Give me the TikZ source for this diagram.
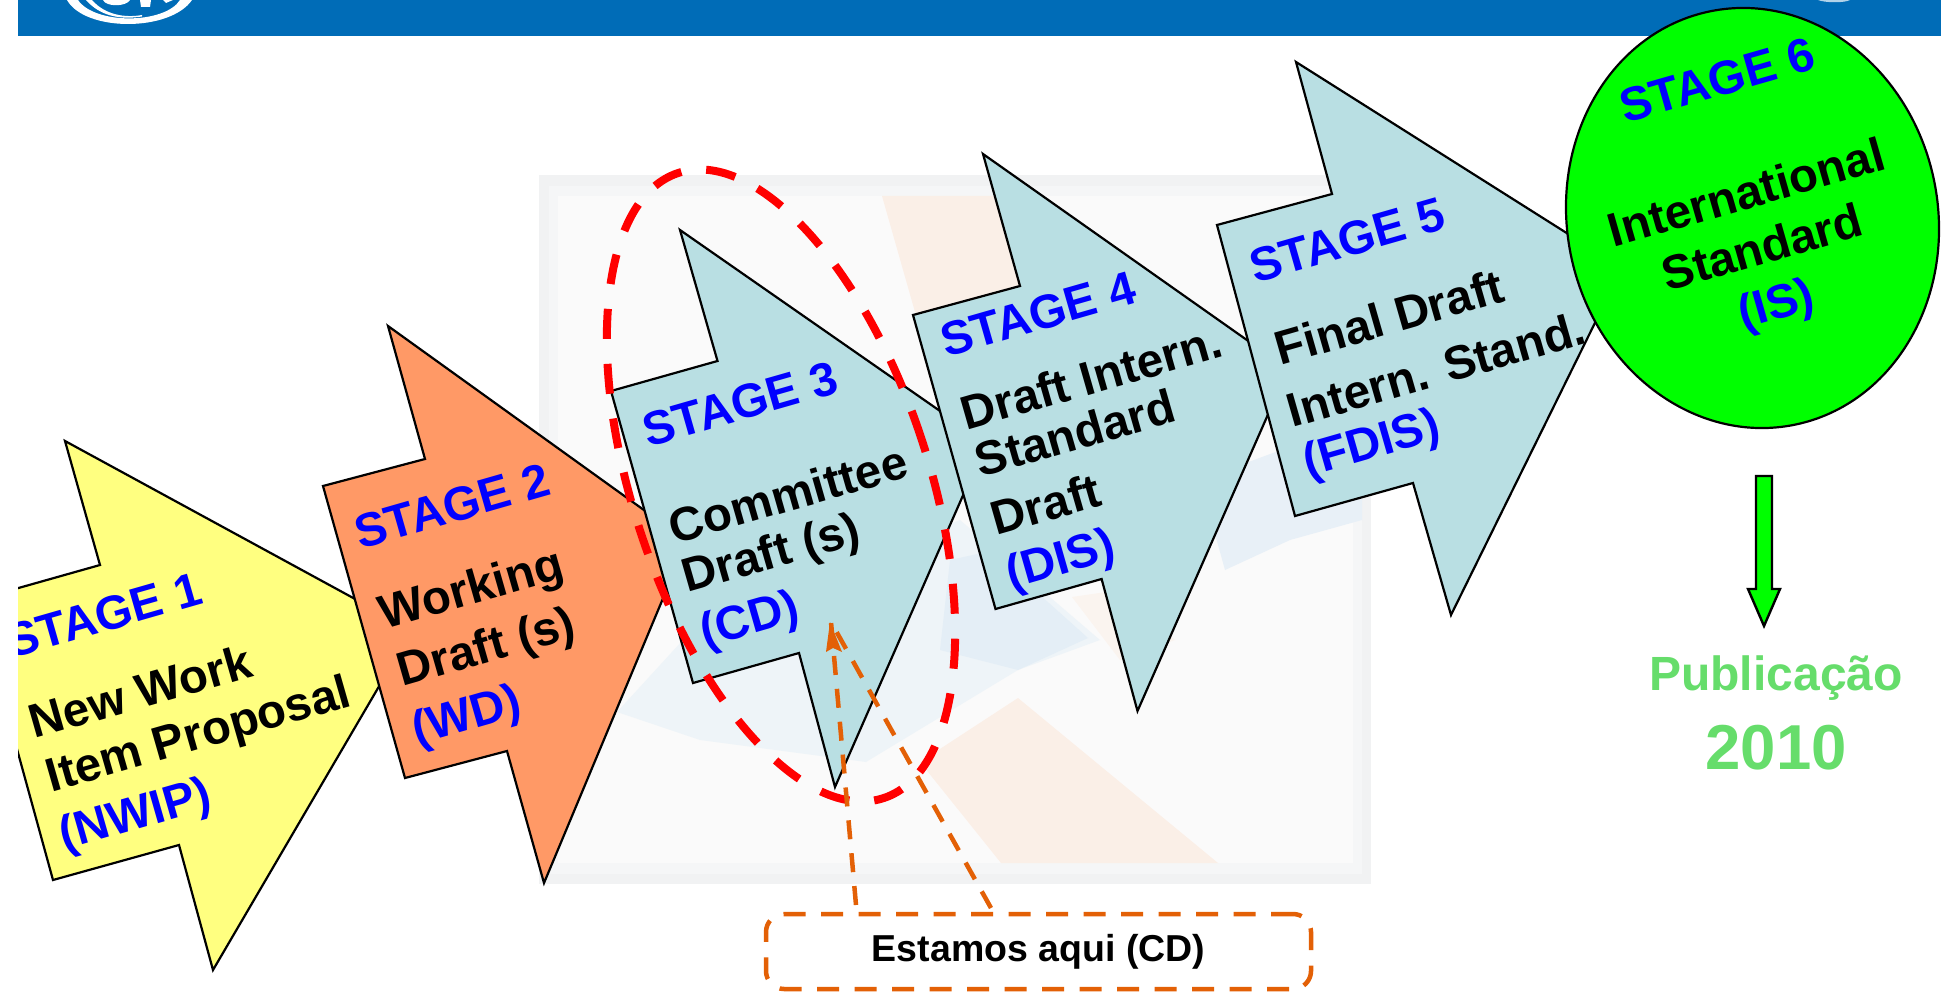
\documentclass[tikz,border=0pt]{standalone}
\usepackage{fontspec}
\setmainfont{Liberation Sans}
\usetikzlibrary{shapes.geometric,arrows.meta}
\definecolor{barblue}{RGB}{0,108,183}
\definecolor{tblue}{RGB}{0,0,255}
\definecolor{ayellow}{RGB}{255,255,128}
\definecolor{aorange}{RGB}{255,153,102}
\definecolor{ateal}{RGB}{185,223,227}
\definecolor{agreen}{RGB}{0,255,0}
\definecolor{pubgreen}{RGB}{102,221,107}
\definecolor{callout}{RGB}{227,96,6}
\definecolor{frameg}{RGB}{241,242,243}
\definecolor{frameh}{RGB}{245,246,247}
\definecolor{innerg}{RGB}{250,250,250}
\definecolor{paleorange}{RGB}{250,239,231}
\definecolor{paleblue}{RGB}{228,238,246}
\tikzset{
  x=1pt,y=-1pt,
  stagearrow/.style={draw=black,line width=2.2pt,line join=miter},
  bl/.style={font=\fontsize{47.5}{47.5}\selectfont\bfseries,text=black,rotate=16,inner sep=0,outer sep=0},
  st/.style={bl,text=tblue},
  callline/.style={draw=callout,line width=4.5pt,dash pattern=on 19pt off 14pt},
}
\begin{document}
\begin{tikzpicture}
\useasboundingbox (0,0) rectangle (1941,992);
\fill[white] (0,0) rectangle (1941,992);
% background picture
\fill[frameg] (539,175) rectangle (1371,884);
\fill[frameh] (549,186) rectangle (1362,874);
\fill[innerg] (558,196) rectangle (1353,863);
\fill[paleorange] (882,196) -- (1007,196) -- (1020,285) -- (1010,380) -- (915,312) -- cycle;
\fill[paleblue!55!innerg] (617,712) -- (693,629) -- (960,520) -- (1100,640) -- (1018,670) -- (866,762) -- (700,740) -- cycle;
\fill[paleblue] (950,560) -- (991,551) -- (1088,638) -- (1018,670) -- (940,650) -- cycle;
\fill[paleblue!80!innerg] (1200,480) -- (1362,420) -- (1362,520) -- (1290,540) -- (1225,570) -- cycle;
\fill[paleorange!60!innerg] (1072,597) -- (1120,590) -- (1175,640) -- (1120,660) -- cycle;
\fill[paleorange] (1018,698) -- (1218,863) -- (1001,863) -- (920,762) -- cycle;
% top bar
\fill[barblue] (18,0) rectangle (1941,36);
\fill[white] (67,0) .. controls (85,32) and (170,32) .. (192,0) -- (180,0) .. controls (165,24) and (95,25) .. (78,0) -- cycle;
\fill[white] (92,0) .. controls (105,15) and (125,18) .. (142,15) -- (142,16.5) .. controls (120,20) and (100,16) .. (86,0) -- cycle;
\fill[white] (103,0) .. controls (106,7) and (126,7) .. (130,0) -- cycle;
\fill[white] (140,0) -- (141,7) -- (150,7) -- (151,0) -- cycle;
\fill[white] (163,0) -- (166,3) -- (173,0) -- cycle;
\fill[white!70!barblue] (1818,0) .. controls (1825,3) and (1845,3) .. (1850,0) -- cycle;
% stage arrows
\draw[stagearrow,fill=ayellow] (65,441) -- (100,565) -- (-24,600) -- (53,880) -- (179,845) -- (213,970) -- (412,630) -- cycle;
\draw[stagearrow,fill=aorange] (388,326) -- (425,459) -- (323,486) -- (405,778) -- (507,751) -- (544,883) -- (687,541) -- cycle;
\draw[stagearrow,fill=ateal] (680,230) -- (717.5,361) -- (611,391) -- (693,683) -- (799,653) -- (835,787) -- (986,443) -- cycle;
\draw[stagearrow,fill=ateal] (983,154) -- (1020,286) -- (913,315) -- (995.5,609) -- (1101.6,579) -- (1137.5,711) -- (1288,369) -- cycle;
\draw[stagearrow,fill=ateal] (1296,62) -- (1332,194) -- (1217,225) -- (1295,516) -- (1413,483) -- (1451,615) -- (1622,268) -- cycle;
\node[ellipse,draw=black,line width=2.2pt,fill=agreen,minimum width=370.8pt,minimum height=422pt,inner sep=0,rotate=11.6] (circ6) at (1752.5,218) {};
% stage labels
\node[st] (s1) at (104,615) {STAGE 1};
\node[bl] (t1a) at (140,691) {New Work};
\node[bl] (t1b) at (199,737) {Item Proposal};
\node[st] (t1c) at (136,817) {(NWIP)};
\node[st] (s2) at (452,506) {STAGE 2};
\node[bl] (t2a) at (472,592) {Working};
\node[bl] (t2b) at (487,650) {Draft (s)};
\node[st] (t2c) at (467,718) {(WD)};
\node[st] (s3) at (740,404) {STAGE 3};
\node[bl] (t3a) at (788,494) {Committee};
\node[bl] (t3b) at (772,556) {Draft (s)};
\node[st] (t3c) at (750,622) {(CD)};
\node[st] (s4) at (1038,314) {STAGE 4};
\node[bl] (t4a) at (1091,377) {Draft Intern.};
\node[bl] (t4b) at (1075,433) {Standard};
\node[bl] (t4c) at (1045.5,504) {Draft};
\node[st] (t4d) at (1061,562) {(DIS)};
\node[st] (s5) at (1347,240) {STAGE 5};
\node[bl] (t5a) at (1389,317) {Final Draft};
\node[bl] (t5b) at (1436,369) {Intern. Stand.};
\node[st] (t5c) at (1372,446) {(FDIS)};
\node[st] (s6) at (1717,80) {STAGE 6};
\node[bl] (t6a) at (1746,192) {International};
\node[bl] (t6b) at (1762,247) {Standard};
\node[st] (t6c) at (1777,307) {(IS)};
% left margin covers what overflows the slide
\fill[white] (0,36) rectangle (18,992);
% red dashed ellipse
\node[ellipse,draw=red,line width=8pt,dash pattern=on 30pt off 25pt,minimum width=296pt,minimum height=658pt,inner sep=0,rotate=18.2] (here) at (781,485.5) {};
% publication arrow
\draw[draw=black,line width=2.4pt,fill=agreen] (1756,476) -- (1772,476) -- (1772,589) -- (1780,589) -- (1764,626) -- (1748,589) -- (1756,589) -- cycle;
\node[font=\fontsize{48}{48}\selectfont\bfseries,text=pubgreen,inner sep=0] (pub) at (1776,678) {Publicação};
\node[font=\fontsize{63.5}{64}\selectfont\bfseries,text=pubgreen,inner sep=0] (yr) at (1776,748) {2010};
% callout
\node[draw=callout,line width=4.5pt,dash pattern=on 22pt off 15.5pt,rounded corners=18pt,minimum width=545pt,minimum height=75pt,inner sep=0,fill=white,font=\fontsize{37.5}{37.5}\selectfont\bfseries,text=black] (call) at (1038.5,951.5) {Estamos aqui (CD)};
\coordinate (cptr) at (831,622);
\coordinate (calla) at (856,905);
\coordinate (callb) at (991,908);
\draw[callline] (calla) -- (cptr);
\draw[callline] (callb) -- (cptr);
\fill[callout] (830,622) -- (842,652) -- (833,648) -- (826,652) -- cycle;
\end{tikzpicture}
\end{document}
